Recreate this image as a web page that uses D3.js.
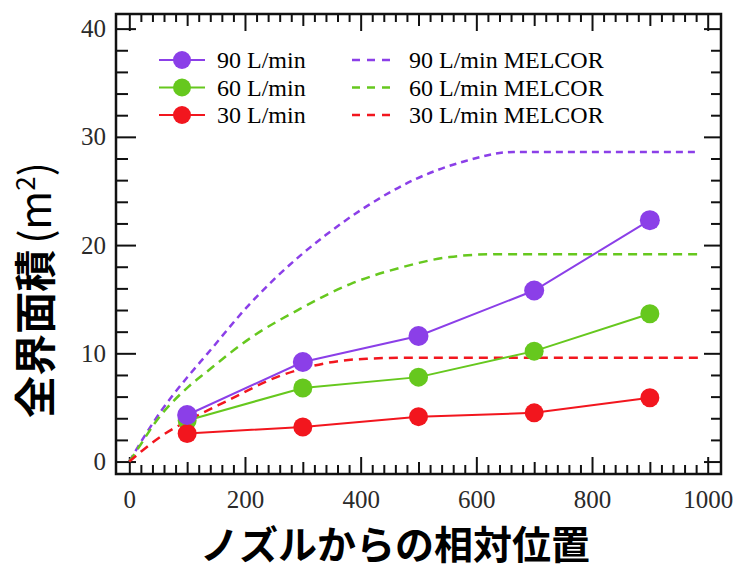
<!DOCTYPE html>
<html>
<head>
<meta charset="utf-8">
<script src="https://cdn.jsdelivr.net/npm/d3@7"></script>
<style>
  body { margin: 0; background: #fff; }
  .tick text { font-family: "Liberation Serif", "DejaVu Serif", serif; }
</style>
</head>
<body>
<script>
// measured points (position from nozzle vs. total interface area)
var positions = [100, 300, 500, 700, 900];
var flow90 = [4.3, 9.2, 11.6, 15.8, 22.3];
var flow60 = [3.8, 6.8, 7.8, 10.2, 13.65];
var flow30 = [2.6, 3.2, 4.15, 4.5, 5.9];

// MELCOR curves
var melcorX90 = [0, 20, 54, 102, 134, 209, 295, 339, 405, 491, 577, 664, 986];
var melcor90  = [0, 1.8, 4.6, 7.9, 9.9, 14.6, 19.0, 20.9, 23.4, 26.0, 27.7, 28.6, 28.6];
var melcorX60 = [0, 20, 42, 102, 134, 209, 295, 382, 468, 554, 629, 986];
var melcor60  = [0, 1.6, 3.4, 6.9, 8.3, 11.4, 14.1, 16.4, 17.9, 18.9, 19.15, 19.15];
var melcorX30 = [0, 20, 54, 102, 169, 255, 341, 410, 485, 986];
var melcor30  = [0, 0.9, 2.3, 3.8, 5.6, 7.8, 9.1, 9.5, 9.6, 9.6];

var xTicks = [0, 200, 400, 600, 800, 1000];
var yTicks = [0, 10, 20, 30, 40];
var seriesNames = ["90 L/min", "60 L/min", "30 L/min"];
var melcorNames = ["90 L/min MELCOR", "60 L/min MELCOR", "30 L/min MELCOR"];
var colors = ["#8b3fe8", "#66c81e", "#f2161e"];

var svg = d3.select("body").append("svg")
    .attr("width", 733)
    .attr("height", 571);

var plotLeft = 116, plotRight = 721, plotTop = 14, plotBottom = 474;
var x = d3.scaleLinear().domain([-23, 1023]).range([plotLeft, plotRight]);
var y = d3.scaleLinear().domain([-1.15, 41.35]).range([plotBottom, plotTop]);

// tick marks all point inward
function ticks(axis, transform, values, size){
    svg.append("g")
        .attr("transform", transform)
        .call(axis.tickValues(values).tickSize(size).tickFormat(""))
        .call(g => g.select(".domain").remove())
        .selectAll("line").attr("stroke", "#111").attr("stroke-width", 2);
}
var xMinor = d3.range(0, 1001, 20).filter(d => d % 100 != 0);
var xMid = [100, 300, 500, 700, 900];
var yMinor = d3.range(0, 41, 2).filter(d => d % 10 != 0);

ticks(d3.axisBottom(x), "translate(0," + plotBottom + ")", xTicks, -17);
ticks(d3.axisBottom(x), "translate(0," + plotBottom + ")", xMid, -12);
ticks(d3.axisBottom(x), "translate(0," + plotBottom + ")", xMinor, -9);
ticks(d3.axisTop(x), "translate(0," + plotTop + ")", xTicks, -17);
ticks(d3.axisTop(x), "translate(0," + plotTop + ")", xMid, -12);
ticks(d3.axisTop(x), "translate(0," + plotTop + ")", xMinor, -8);
ticks(d3.axisLeft(y), "translate(" + plotLeft + ",0)", yTicks, -20);
ticks(d3.axisLeft(y), "translate(" + plotLeft + ",0)", yMinor, -12);
ticks(d3.axisRight(y), "translate(" + plotRight + ",0)", yTicks, -17);
ticks(d3.axisRight(y), "translate(" + plotRight + ",0)", yMinor, -10);

// tick labels
svg.append("g")
    .attr("transform", "translate(0," + plotBottom + ")")
    .call(d3.axisBottom(x).tickValues(xTicks).tickSize(0).tickPadding(16).tickFormat(d3.format("d")))
    .call(g => g.select(".domain").remove())
    .selectAll("text").attr("font-size", 25).attr("fill", "#2a2a2a");
svg.append("g")
    .attr("transform", "translate(" + plotLeft + ",0)")
    .call(d3.axisLeft(y).tickValues(yTicks).tickSize(0).tickPadding(10).tickFormat(d3.format("d")))
    .call(g => g.select(".domain").remove())
    .selectAll("text").attr("font-size", 25).attr("fill", "#2a2a2a");

// MELCOR dashed curves
var melcor = [[melcorX90, melcor90, "7,5"], [melcorX60, melcor60, "9,6"], [melcorX30, melcor30, "9,6"]];
var line = d3.line().x(d => x(d[0])).y(d => y(d[1])).curve(d3.curveMonotoneX);
melcor.forEach(function(m, i){
    svg.append("path")
        .datum(m[0].map((v, j) => [v, m[1][j]]))
        .attr("d", line)
        .attr("fill", "none")
        .attr("stroke", colors[i])
        .attr("stroke-width", 2.5)
        .attr("stroke-dasharray", m[2]);
});

// measured series: green, red, then purple on top
var measured = [flow90, flow60, flow30];
var straight = d3.line().x(d => x(d[0])).y(d => y(d[1]));
[1, 2, 0].forEach(function(i){
    var pts = positions.map((p, j) => [p, measured[i][j]]);
    svg.append("path")
        .datum(pts)
        .attr("d", straight)
        .attr("fill", "none")
        .attr("stroke", colors[i])
        .attr("stroke-width", 2);
    svg.selectAll(null)
        .data(pts)
        .enter()
        .append("circle")
        .attr("cx", d => x(d[0]))
        .attr("cy", d => y(d[1]))
        .attr("r", i == 0 ? 10 : 9.5)
        .attr("fill", colors[i]);
});

// frame
svg.append("rect")
    .attr("x", plotLeft).attr("y", plotTop)
    .attr("width", plotRight - plotLeft).attr("height", plotBottom - plotTop)
    .attr("fill", "none").attr("stroke", "#111").attr("stroke-width", 2.5);

// legend
var legend = svg.append("g").attr("font-family", "Liberation Serif, serif").attr("font-size", 24);
seriesNames.forEach(function(name, i){
    var ly = 60 + i * 27.5;
    legend.append("line").attr("x1", 159).attr("x2", 205).attr("y1", ly).attr("y2", ly)
        .attr("stroke", colors[i]).attr("stroke-width", 2);
    legend.append("circle").attr("cx", 182).attr("cy", ly).attr("r", 9).attr("fill", colors[i]);
    legend.append("text").attr("x", 217).attr("y", ly + 8).text(name);
    legend.append("line").attr("x1", 352).attr("x2", 394).attr("y1", ly).attr("y2", ly)
        .attr("stroke", colors[i]).attr("stroke-width", 2.5).attr("stroke-dasharray", "8,7");
    legend.append("text").attr("x", 409).attr("y", ly + 8).text(melcorNames[i]);
});

// axis titles
svg.append("text")
    .attr("x", 395).attr("y", 559)
    .attr("text-anchor", "middle")
    .attr("font-family", "Noto Sans CJK JP")
    .attr("font-weight", "bold")
    .attr("font-size", 39)
    .text("ノズルからの相対位置");

var yTitle = svg.append("text")
    .attr("transform", "translate(51,290) rotate(-90)")
    .attr("text-anchor", "middle")
    .attr("font-family", "Noto Sans CJK JP")
    .attr("font-size", 42);
yTitle.append("tspan").attr("font-weight", "bold").text("全界面積");
yTitle.append("tspan").attr("font-weight", "normal").attr("dx", 6).text("(m");
yTitle.append("tspan").attr("font-size", 26).attr("dy", -16).text("2");
yTitle.append("tspan").attr("dy", 16).text(")");
</script>
</body>
</html>
